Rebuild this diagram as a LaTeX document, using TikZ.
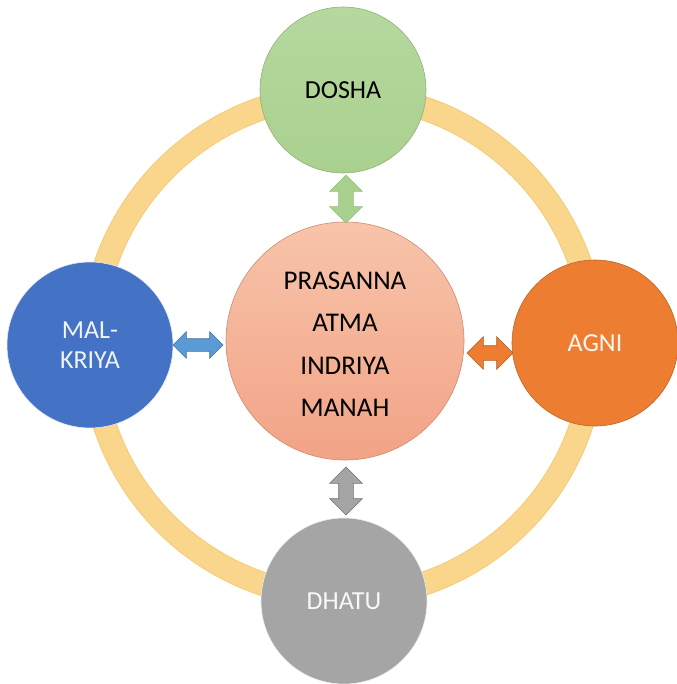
\documentclass[tikz,border=0pt]{standalone}
\usepackage{fontspec}
\setmainfont{Carlito}
\usetikzlibrary{shapes.arrows}
\definecolor{ringY}{HTML}{F9D68B}
\definecolor{ringYd}{HTML}{F4CC78}
\definecolor{doshaG}{HTML}{A9D18E}
\definecolor{malB}{HTML}{4472C4}
\definecolor{agniO}{HTML}{ED7D31}
\definecolor{dhatuG}{HTML}{A5A5A5}
\definecolor{coreTop}{HTML}{F7C4AA}
\definecolor{coreBot}{HTML}{F2A386}
\definecolor{arrB}{HTML}{5B9BD5}
\tikzset{
  bubble/.style={circle, minimum size=166pt, inner sep=0pt, line width=0.6pt,
    font=\fontsize{26}{30}\selectfont, align=center},
  core/.style={circle, minimum size=238pt, inner sep=0pt, line width=0.6pt,
    draw=coreBot!85!black, top color=coreTop, bottom color=coreBot},
  coretext/.style={font=\fontsize{27}{42.5}\selectfont, align=center, inner sep=0pt},
  link/.style={double arrow, inner xsep=0pt, inner ysep=7pt, minimum height=48pt,
    minimum width=0pt, double arrow head extend=9pt, double arrow head indent=0pt,
    line width=0.6pt},
}
\begin{document}
\begin{tikzpicture}[x=1pt,y=-1pt]
\useasboundingbox (0,0) rectangle (676,684);
% ring joining the four outer bubbles
\coordinate (ringc) at (343,346);
\draw[ringYd, line width=24pt] (ringc) circle (251);
\draw[ringY, line width=22pt] (ringc) circle (251);
% outer bubbles
\node[bubble, top color=doshaG!85!white, bottom color=doshaG, draw=doshaG!85!black] (dosha) at (343,90) {DOSHA};
\node[bubble, fill=malB, draw=white!85!malB, text=white!92!malB] (mal) at (90,345) {MAL-\\KRIYA};
\node[bubble, fill=agniO, draw=agniO!80!black, text=white!92!agniO] (agni) at (595,343) {AGNI};
\node[bubble, fill=dhatuG, draw=white!80!dhatuG, text=white!92!dhatuG] (dhatu) at (344,601) {DHATU};
% central bubble and its four lines
\node[core] (core) at (345,341) {};
\node[coretext, yshift=-3pt] (words) at (core.center) {PRASANNA\\ATMA\\INDRIYA\\MANAH};
% two-way links to the centre
\node[link, rotate=90, fill=doshaG, draw=doshaG!90!black] (ldosha) at (346,199) {};
\node[link, fill=arrB, draw=arrB!75!black, minimum height=50pt, inner ysep=6pt, double arrow head extend=7pt] (lmal) at (198,345) {};
\node[link, fill=agniO, draw=agniO!75!black, minimum height=46pt] (lagni) at (490,353) {};
\node[link, rotate=90, fill=dhatuG, draw=dhatuG!70!black] (ldhatu) at (346,491) {};
\end{tikzpicture}
\end{document}
